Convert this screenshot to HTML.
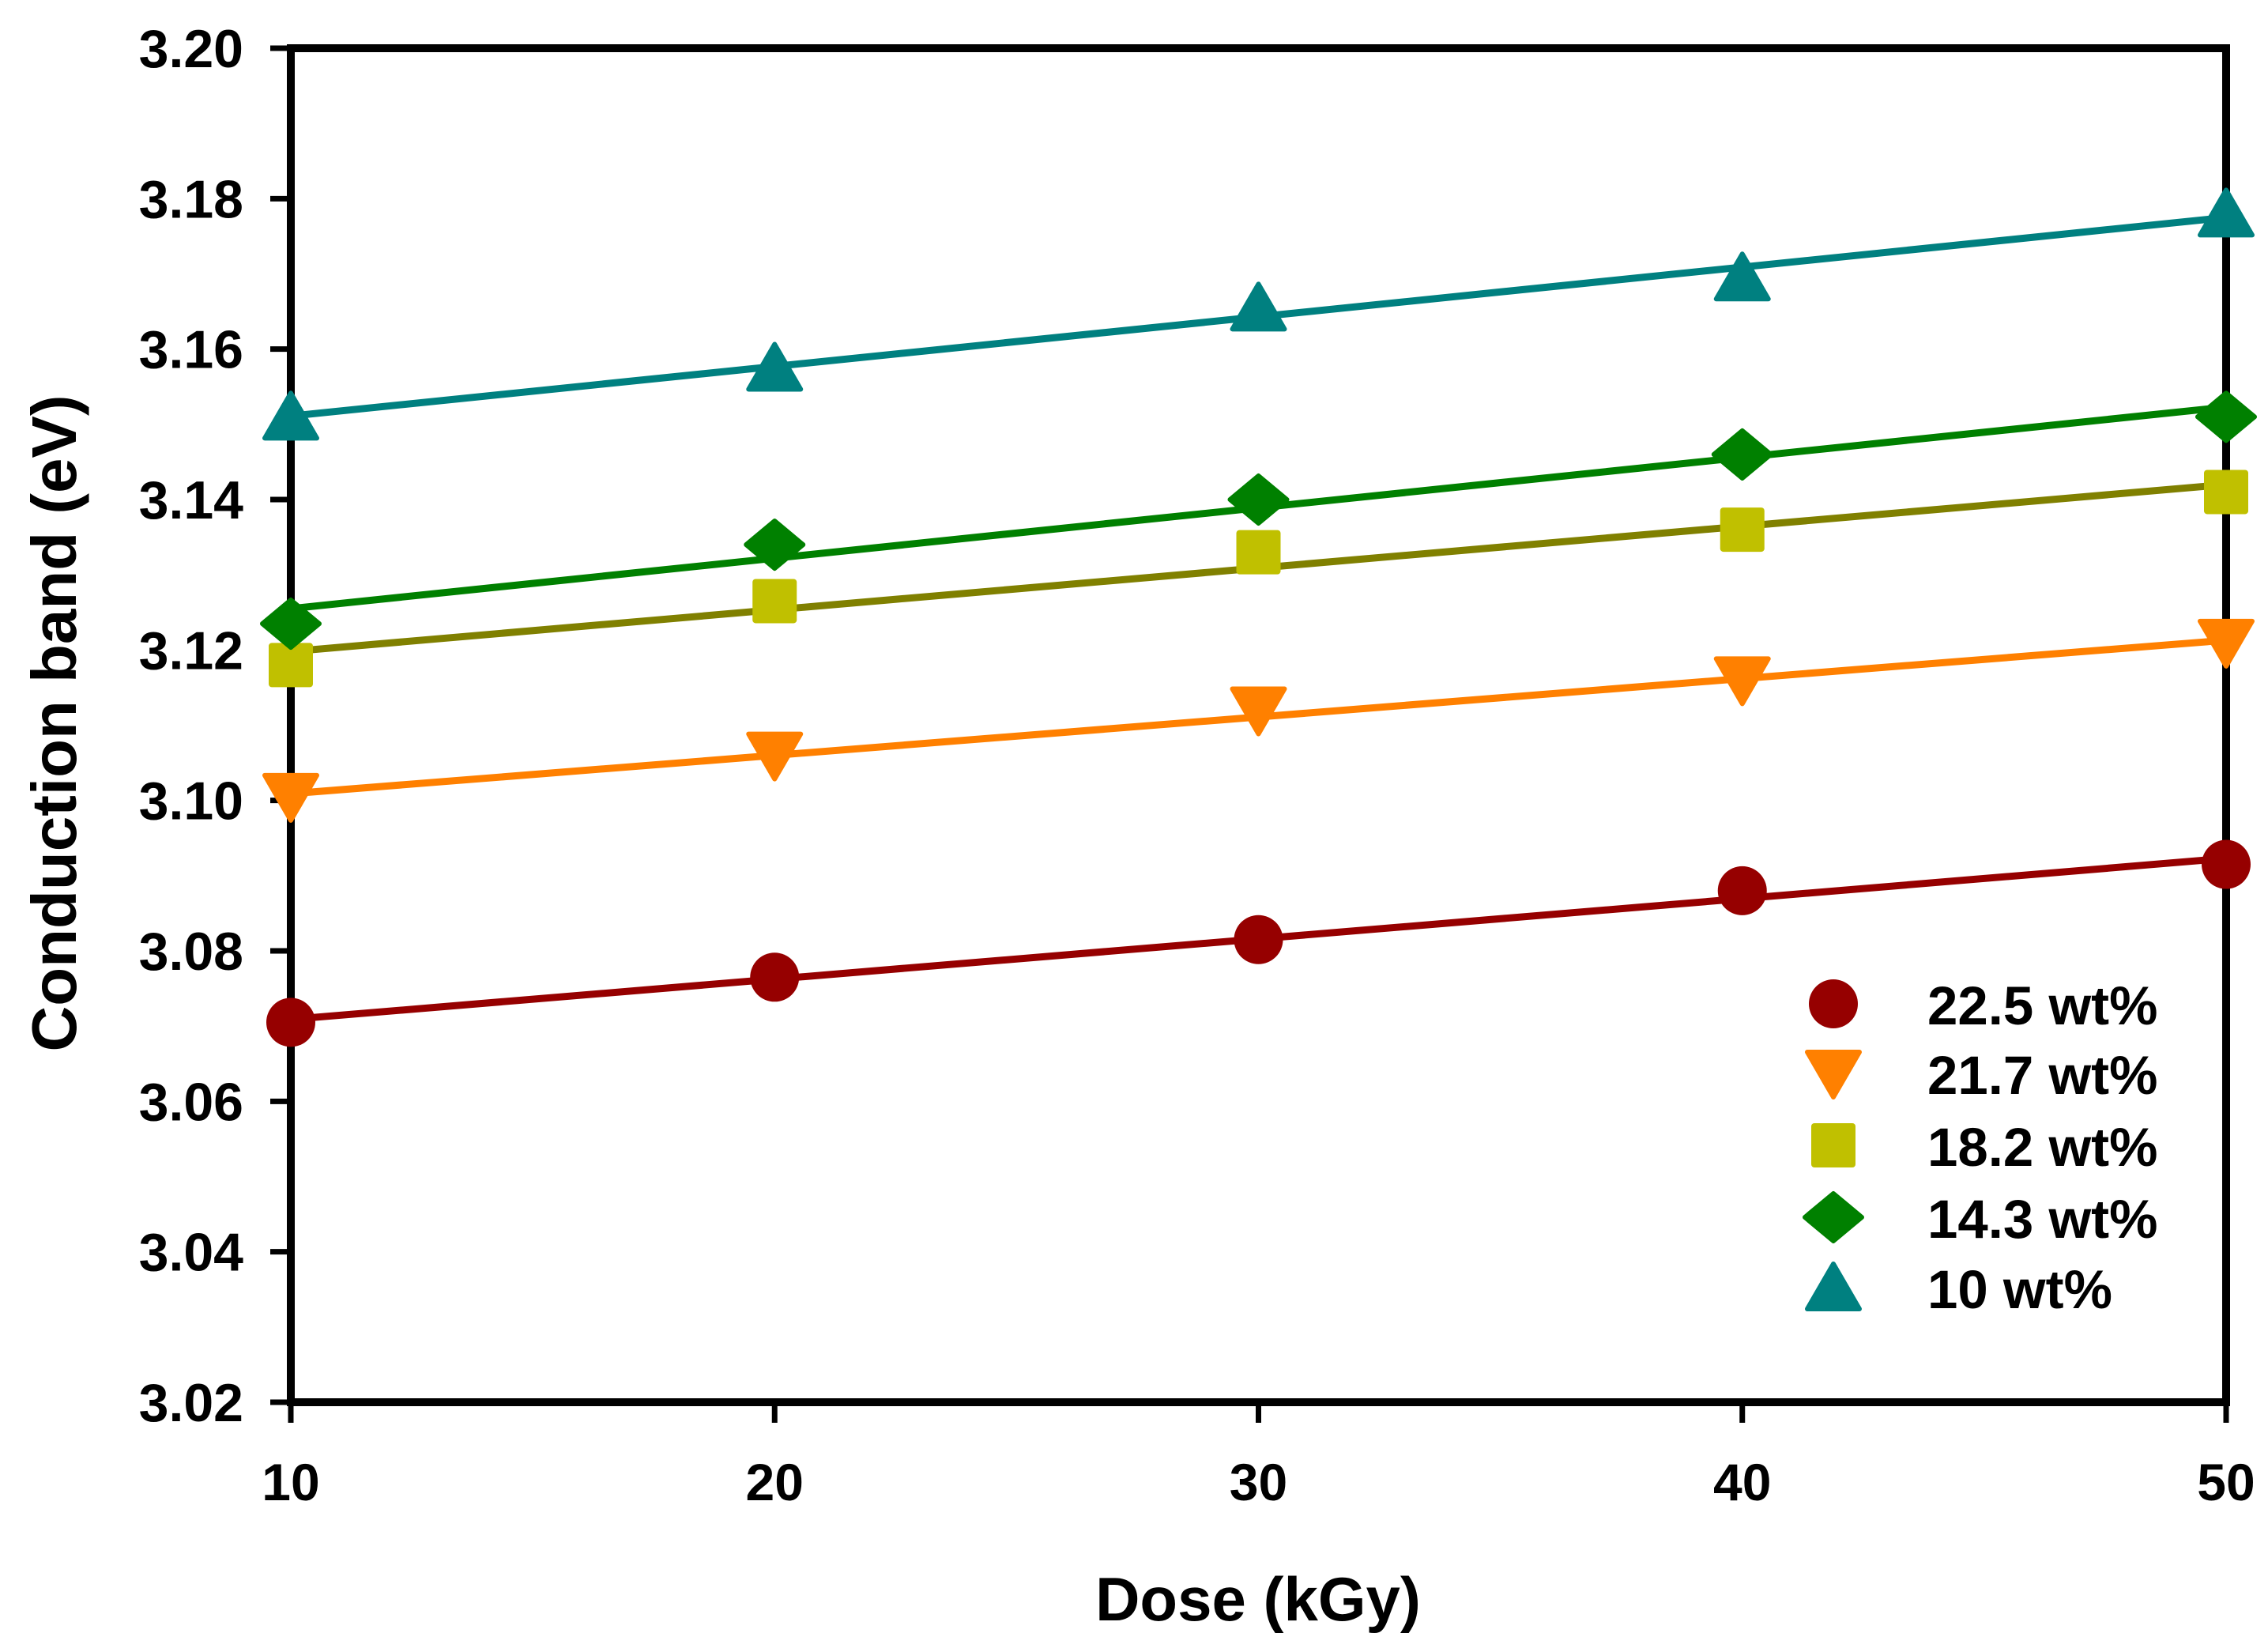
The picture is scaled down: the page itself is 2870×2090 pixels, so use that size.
<!DOCTYPE html>
<html><head><meta charset="utf-8"><style>
html,body{margin:0;padding:0;background:#fff}
svg{display:block}
text{font-family:"Liberation Sans",Arial,sans-serif;font-weight:bold;fill:#000}
</style></head><body>
<svg id="chart" width="2870" height="2090" viewBox="0 0 2870 2090" xmlns="http://www.w3.org/2000/svg"></svg>
<script>
const doses = [10, 20, 30, 40, 50];
const xTicks = [10, 20, 30, 40, 50];
const yTicks = [3.02, 3.04, 3.06, 3.08, 3.10, 3.12, 3.14, 3.16, 3.18, 3.20];
const seriesNames = ["22.5 wt%", "21.7 wt%", "18.2 wt%", "14.3 wt%", "10 wt%"];
const s225 = [3.0705, 3.0765, 3.0815, 3.088, 3.0915];
const s217 = [3.1005, 3.106, 3.112, 3.116, 3.121];
const s182 = [3.118, 3.1265, 3.133, 3.136, 3.141];
const s143 = [3.1235, 3.134, 3.140, 3.146, 3.151];
const s10 = [3.151, 3.1575, 3.1655, 3.1695, 3.178];

const NS = "http://www.w3.org/2000/svg";
const svg = document.getElementById("chart");
const L = 368, R = 2817, T = 61, B = 1774;
const xMin = 10, xMax = 50, yMin = 3.02, yMax = 3.20;
function xs(v){ return L + (v - xMin) / (xMax - xMin) * (R - L); }
function ys(v){ return B - (v - yMin) / (yMax - yMin) * (B - T); }
function mk(tag, attrs, parent){
  const e = document.createElementNS(NS, tag);
  for (const k in attrs) e.setAttribute(k, attrs[k]);
  (parent || svg).appendChild(e);
  return e;
}
function fit(xv, yv){
  const n = xv.length; let sx=0, sy=0, sxx=0, sxy=0;
  for (let i=0;i<n;i++){ sx+=xv[i]; sy+=yv[i]; sxx+=xv[i]*xv[i]; sxy+=xv[i]*yv[i]; }
  const m = (n*sxy - sx*sy)/(n*sxx - sx*sx);
  return [m, (sy - m*sx)/n];
}
function marker(shape, cx, cy, color, g){
  let e;
  if (shape === "circle") e = mk("circle", {cx: cx, cy: cy, r: 31, fill: color}, g);
  else if (shape === "down") e = mk("polygon", {points: `${cx-33},${cy-27} ${cx+33},${cy-27} ${cx},${cy+30}`, fill: color, stroke: color, "stroke-width": 6, "stroke-linejoin": "round"}, g);
  else if (shape === "square") e = mk("rect", {x: cx-28, y: cy-28, width: 56, height: 56, rx: 4, fill: color}, g);
  else if (shape === "diamond") e = mk("polygon", {points: `${cx-36},${cy} ${cx},${cy-30} ${cx+36},${cy} ${cx},${cy+30}`, fill: color, stroke: color, "stroke-width": 6, "stroke-linejoin": "round"}, g);
  else e = mk("polygon", {points: `${cx-33},${cy+27} ${cx+33},${cy+27} ${cx},${cy-30}`, fill: color, stroke: color, "stroke-width": 6, "stroke-linejoin": "round"}, g);
  return e;
}

const allSeries = [s225, s217, s182, s143, s10];
const colors = ["#960000", "#ff8000", "#c0c000", "#008000", "#008080"];
const lineColors = ["#960000", "#ff8000", "#808000", "#008000", "#008080"];
const shapes = ["circle", "down", "square", "diamond", "up"];

const axes = mk("g", {});


const frame = mk("rect", {x: L, y: T, width: R-L, height: B-T, fill: "none", stroke: "#000", "stroke-width": 10}, axes);



yTicks.forEach(function(v){
  const t = mk("line", {x1: L-26, x2: L, y1: ys(v), y2: ys(v), stroke: "#000", "stroke-width": 7}, axes);
  
  
  const lb = mk("text", {x: 308, y: ys(v)+24, "text-anchor": "end", "font-size": 68}, axes);
  lb.textContent = v.toFixed(2);
  
  
});
xTicks.forEach(function(v){
  const t = mk("line", {x1: xs(v), x2: xs(v), y1: B, y2: B+26, stroke: "#000", "stroke-width": 7}, axes);
  
  
  const lb = mk("text", {x: xs(v), y: 1898, "text-anchor": "middle", "font-size": 66}, axes);
  lb.textContent = String(v);
  
  
});
const xt = mk("text", {x: 1592, y: 2050, "text-anchor": "middle", "font-size": 78});
xt.textContent = "Dose (kGy)";


const yt = mk("text", {x: 0, y: 0, "text-anchor": "middle", "font-size": 80, transform: "translate(96,915) rotate(-90)"});
yt.textContent = "Conduction band (eV)";



allSeries.forEach(function(s, i){
  const g = mk("g", {});
  
  
  const f = fit(doses, s);
  const ln = mk("line", {x1: xs(xMin), y1: ys(f[0]*xMin+f[1]), x2: xs(xMax), y2: ys(f[0]*xMax+f[1]), stroke: lineColors[i], "stroke-width": 9}, g);
  
  
  s.forEach(function(v, j){
    const m = marker(shapes[i], xs(doses[j]), ys(v), colors[i], g);
    
    
  });
});

const lg = mk("g", {});


const legY = [1270, 1358, 1449, 1540, 1629];
seriesNames.forEach(function(n, i){
  const e = mk("g", {}, lg);
  
  
  const m = marker(shapes[i], 2320, legY[i], colors[i], e);
  
  
  const t = mk("text", {x: 2439, y: legY[i]+26, "font-size": 69}, e);
  t.textContent = n;
  
  
});
</script>
</body></html>
